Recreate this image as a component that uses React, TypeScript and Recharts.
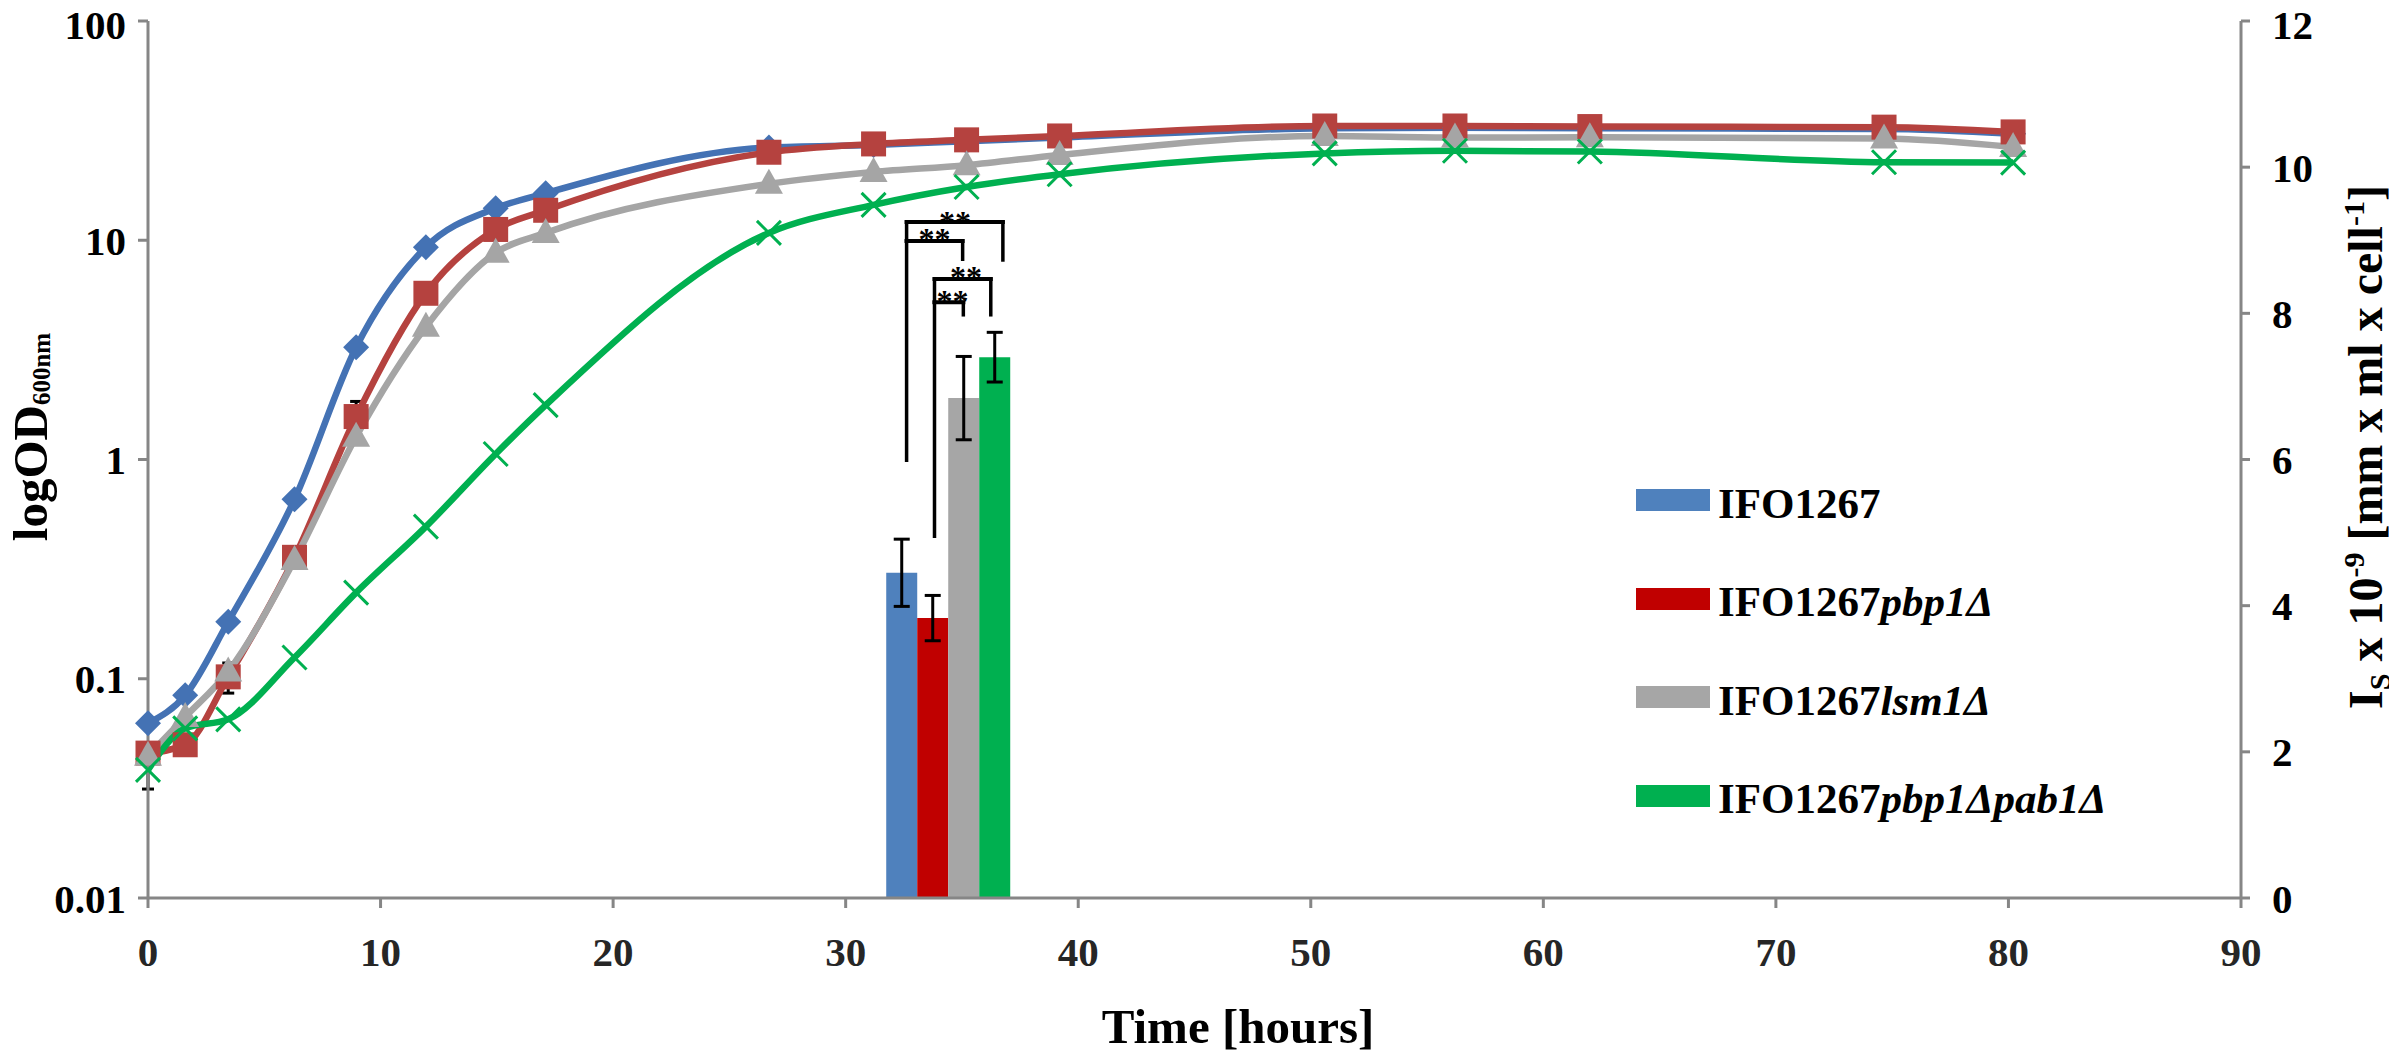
import {
  Bar,
  ComposedChart,
  ErrorBar,
  Legend,
  Line,
  ReferenceDot,
  ReferenceLine,
  XAxis,
  YAxis,
} from "recharts";

// growth curves, time in hours, OD600 on a log axis
const hours = [
  0, 1.6, 3.45, 6.3, 8.95, 11.95, 14.95, 17.1, 26.7, 31.2, 35.2, 39.2, 50.6,
  56.2, 62, 74.65, 80.2,
];
const odWildType = [
  0.0626, 0.084, 0.182, 0.658, 3.25, 9.3, 14.0, 16.4, 26.5, 27.2, 28.3, 29.4,
  32.4, 32.6, 32.4, 32.2, 30.6,
];
const odPbp1 = [
  0.0458, 0.05, 0.102, 0.358, 1.57, 5.73, 11.2, 13.7, 25.2, 27.5, 28.7, 29.9,
  33.2, 33.2, 33.0, 32.8, 31.2,
];
const odLsm1 = [
  0.0445, 0.067, 0.108, 0.348, 1.27, 4.03, 8.77, 10.8, 18.1, 20.5, 22.0, 24.5,
  29.9, 29.4, 29.5, 29.1, 26.6,
];
const odPbp1Pab1 = [
  0.0384, 0.0594, 0.0653, 0.125, 0.247, 0.494, 1.06, 1.77, 10.8, 14.5, 17.5,
  20.0, 24.9, 25.6, 25.4, 22.7, 22.6,
];
// only the error bars that stick out past the markers
const errPbp1 = [
  null, null, 0.016, null, 0.27, null, null, null, null, null, null, null,
  null, null, null, null, null,
];
const errPbp1Pab1 = [
  0.007, null, null, null, null, null, null, null, null, null, null, null,
  null, null, null, null, null,
];

// Is values (right axis), one bar per strain around 34 h
const strains = ["IFO1267", "IFO1267pbp1Δ", "IFO1267lsm1Δ", "IFO1267pbp1Δpab1Δ"];
const barHour = 34.42;
const isValues = [4.45, 3.83, 6.84, 7.4];
const isErrors = [0.46, 0.31, 0.57, 0.34];

// significance brackets: left / right ends in hours, height of bar, drop of each leg
const brackets = [
  { from: 32.62, to: 36.76, top: 9.25, leftEnd: 5.99, rightEnd: 8.73, starAt: 34.7, starY: 9.32 },
  { from: 32.62, to: 35.03, top: 8.99, leftEnd: 8.99, rightEnd: 8.74, starAt: 33.82, starY: 9.09 },
  { from: 33.82, to: 36.24, top: 8.47, leftEnd: 4.95, rightEnd: 7.98, starAt: 35.17, starY: 8.57 },
  { from: 33.82, to: 35.06, top: 8.15, leftEnd: 8.15, rightEnd: 7.98, starAt: 34.59, starY: 8.24 },
];

const xTicks = [0, 10, 20, 30, 40, 50, 60, 70, 80, 90];
const odTicks = [0.01, 0.1, 1, 10, 100];
const isTicks = [0, 2, 4, 6, 8, 10, 12];

const lineColors = ["#4472b4", "#b5423f", "#a5a5a5", "#00b050"];
const barColors = ["#4f81bd", "#c00000", "#a6a6a6", "#00b050"];
const axisGray = "#868686";

const series = (values: number[], errs?: (number | null)[]) =>
  hours.map((t, i) => ({ t, od: values[i], err: errs ? errs[i] : null }));

// first row is empty, it only gives the bar axis a band to measure
const barTable = [
  { t: 0 },
  {
    t: barHour,
    s0: isValues[0], e0: isErrors[0],
    s1: isValues[1], e1: isErrors[1],
    s2: isValues[2], e2: isErrors[2],
    s3: isValues[3], e3: isErrors[3],
  },
];

const diamond = (p: any) => (
  <path
    key={p.index}
    d={`M${p.cx},${p.cy - 13}L${p.cx + 13},${p.cy}L${p.cx},${p.cy + 13}L${p.cx - 13},${p.cy}Z`}
    fill={lineColors[0]}
  />
);
const square = (p: any) => (
  <rect key={p.index} x={p.cx - 12.5} y={p.cy - 12.5} width={25} height={25} fill={lineColors[1]} />
);
const triangle = (p: any) => (
  <path
    key={p.index}
    d={`M${p.cx},${p.cy - 15}L${p.cx + 14},${p.cy + 10}L${p.cx - 14},${p.cy + 10}Z`}
    fill={lineColors[2]}
  />
);
const cross = (p: any) => (
  <path
    key={p.index}
    d={`M${p.cx - 12},${p.cy - 12}L${p.cx + 12},${p.cy + 12}M${p.cx + 12},${p.cy - 12}L${p.cx - 12},${p.cy + 12}`}
    stroke={lineColors[3]}
    strokeWidth={3}
  />
);

const renderLegend = ({ payload }: any) => {
  const items = (payload || [])
    .filter((entry: any) => strains.includes(String(entry.value)) && entry.type !== "none")
    .sort((a: any, b: any) => strains.indexOf(a.value) - strains.indexOf(b.value));
  return (
    <div>
      {items.map((entry: any) => {
        const name = String(entry.value);
        const rest = name.replace("IFO1267", "");
        return (
          <div
            key={name}
            style={{ display: "flex", alignItems: "center", height: 98.5 }}
          >
            <span
              style={{ width: 74, height: 22, background: entry.color, display: "inline-block" }}
            />
            <span style={{ marginLeft: 8, marginTop: 6, fontSize: 43, fontWeight: "bold", color: "#000" }}>
              IFO1267<i>{rest}</i>
            </span>
          </div>
        );
      })}
    </div>
  );
};

const leftTitle = ({ viewBox }: any) => {
  const bx = viewBox.x + 47;
  const cy = 437;
  return (
    <text
      transform={`rotate(-90 ${bx} ${cy})`}
      x={bx}
      y={cy}
      textAnchor="middle"
      fontSize={49}
      fontWeight="bold"
      fill="#000"
    >
      logOD
      <tspan fontSize={25} dy={3}>
        600nm
      </tspan>
    </text>
  );
};

const rightTitle = ({ viewBox }: any) => {
  const bx = viewBox.x + 141;
  const cy = 447;
  return (
    <text
      transform={`rotate(-90 ${bx} ${cy})`}
      x={bx}
      y={cy}
      textAnchor="middle"
      fontSize={48}
      fontWeight="bold"
      fill="#000"
    >
      I
      <tspan fontSize={30} dy={8}>S</tspan>
      <tspan dy={-8}> x 10</tspan>
      <tspan fontSize={30} dy={-18}>-9</tspan>
      <tspan dy={18}> [mm x ml x cell</tspan>
      <tspan fontSize={30} dy={-18}>-1</tspan>
      <tspan dy={18}>]</tspan>
    </text>
  );
};

const bottomTitle = () => (
  <text x={1238} y={1043} textAnchor="middle" fontSize={49} fontWeight="bold" fill="#000">
    Time [hours]
  </text>
);

const stars = (p: any) => (
  <text x={p.cx} y={p.cy + 16} textAnchor="middle" fontSize={32} fontWeight="bold" fill="#000">
    **
  </text>
);

export default function App() {
  const lineSets = [
    { data: series(odWildType), dot: diamond },
    { data: series(odPbp1, errPbp1), dot: square },
    { data: series(odLsm1), dot: triangle },
    { data: series(odPbp1Pab1, errPbp1Pab1), dot: cross },
  ];

  return (
    <div
      style={{
        position: "absolute",
        left: 0,
        top: 0,
        background: "#fff",
        fontFamily: "'Liberation Serif', 'Times New Roman', serif",
        fontWeight: "bold",
      }}
    >
      <ComposedChart
        width={2389}
        height={1056}
        data={barTable}
        barGap={0}
        margin={{ top: 21, right: 0, bottom: 0, left: 0 }}
      >
        <XAxis
          dataKey="t"
          type="number"
          domain={[0, 90]}
          ticks={xTicks}
          stroke={axisGray}
          strokeWidth={3}
          tickSize={10}
          tickMargin={29}
          tick={{ fontSize: 41, fill: "#262626", fontWeight: "bold" }}
          height={158}
          label={{ content: bottomTitle }}
        />
        <XAxis xAxisId="bars" dataKey="t" type="number" domain={[0, 90]} hide />
        <YAxis
          yAxisId="left"
          scale="log"
          type="number"
          domain={[0.01, 100]}
          ticks={odTicks}
          allowDataOverflow
          tickFormatter={(v) => String(v)}
          stroke={axisGray}
          strokeWidth={3}
          tickSize={10}
          tickMargin={12}
          tick={{ fontSize: 41, fill: "#000", fontWeight: "bold" }}
          width={148}
          label={{ content: leftTitle }}
        />
        <YAxis
          yAxisId="right"
          orientation="right"
          type="number"
          domain={[0, 12]}
          ticks={isTicks}
          stroke={axisGray}
          strokeWidth={3}
          tickSize={9}
          tickMargin={22}
          tick={{ fontSize: 41, fill: "#000", fontWeight: "bold" }}
          width={148}
          label={{ content: rightTitle }}
        />

        {strains.map((name, i) => (
          <Bar
            key={name}
            xAxisId="bars"
            yAxisId="right"
            dataKey={`s${i}`}
            name={name}
            fill={barColors[i]}
            barSize={31}
            isAnimationActive={false}
          >
            <ErrorBar dataKey={`e${i}`} width={8} strokeWidth={3} stroke="#000" />
          </Bar>
        ))}

        {lineSets.map((s, i) => (
          <Line
            key={strains[i]}
            data={s.data}
            dataKey="od"
            name={`growth-${i}`}
            yAxisId="left"
            type="monotone"
            stroke={lineColors[i]}
            strokeWidth={6.5}
            dot={s.dot}
            activeDot={false}
            legendType="none"
            isAnimationActive={false}
          >
            <ErrorBar dataKey="err" width={6} strokeWidth={3} stroke="#000" />
          </Line>
        ))}

        {brackets.map((b, i) => (
          <ReferenceLine
            key={`l${i}`}
            xAxisId="bars"
            yAxisId="right"
            segment={[{ x: b.from, y: b.leftEnd }, { x: b.from, y: b.top }]}
            stroke="#000"
            strokeWidth={3.5}
            strokeLinecap="square"
          />
        ))}
        {brackets.map((b, i) => (
          <ReferenceLine
            key={`h${i}`}
            xAxisId="bars"
            yAxisId="right"
            segment={[{ x: b.from, y: b.top }, { x: b.to, y: b.top }]}
            stroke="#000"
            strokeWidth={4}
            strokeLinecap="square"
          />
        ))}
        {brackets.map((b, i) => (
          <ReferenceLine
            key={`r${i}`}
            xAxisId="bars"
            yAxisId="right"
            segment={[{ x: b.to, y: b.top }, { x: b.to, y: b.rightEnd }]}
            stroke="#000"
            strokeWidth={3.5}
            strokeLinecap="square"
          />
        ))}
        {brackets.map((b, i) => (
          <ReferenceDot
            key={`s${i}`}
            xAxisId="bars"
            yAxisId="right"
            x={b.starAt}
            y={b.starY}
            r={0}
            shape={stars}
          />
        ))}

        <Legend
          layout="vertical"
          align="center"
          verticalAlign="middle"
          content={renderLegend}
          wrapperStyle={{ left: 1636, top: 451, width: "auto", height: "auto" }}
        />
      </ComposedChart>
    </div>
  );
}
